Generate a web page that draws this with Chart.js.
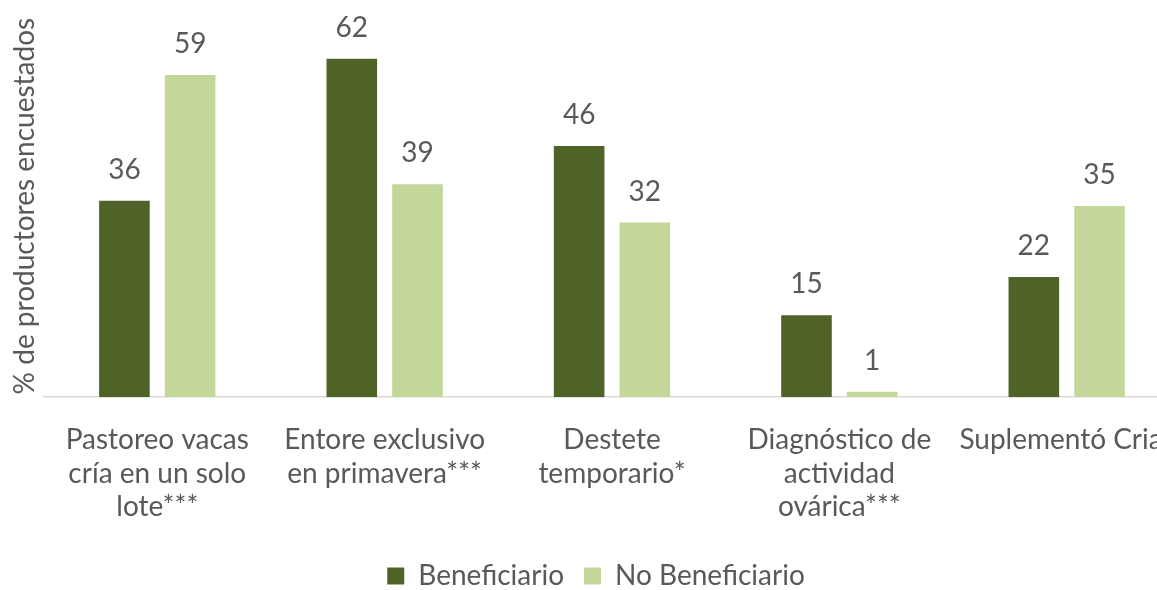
<!DOCTYPE html>
<html lang="es">
<head>
  <meta charset="UTF-8">
  <title>Prácticas de manejo</title>
  <script src="https://cdn.jsdelivr.net/npm/chart.js@4.4.0/dist/chart.umd.min.js"></script>
  <style>
    html, body { margin: 0; padding: 0; background: #fff; overflow: hidden; }
    #wrap { width: 1192px; height: 600px; }
  </style>
</head>
<body>
<div id="wrap"><canvas id="chart" width="1192" height="600"></canvas></div>
<script>
  const categories = [
    ['Pastoreo vacas', 'cría en un solo', 'lote***'],
    ['Entore exclusivo', 'en primavera***'],
    ['Destete', 'temporario*'],
    ['Diagnóstico de', 'actividad', 'ovárica***'],
    'Suplementó Cria*'
  ];
  const beneficiario = [36, 62, 46, 15, 22];
  const noBeneficiario = [59, 39, 32, 1, 35];

  const textColor = '#595959';
  const fontFamily = 'Lato, "Open Sans", sans-serif';
  const fontSize = 28;

  // draws the value above every bar
  const valueLabels = {
    id: 'valueLabels',
    afterDatasetsDraw(chart) {
      const ctx = chart.ctx;
      ctx.save();
      ctx.font = fontSize + 'px ' + fontFamily;
      ctx.fillStyle = textColor;
      ctx.textAlign = 'center';
      ctx.textBaseline = 'middle';
      chart.data.datasets.forEach((ds, i) => {
        chart.getDatasetMeta(i).data.forEach((bar, j) => {
          ctx.fillText(ds.data[j], bar.x, bar.y - 31);
        });
      });
      ctx.restore();
    }
  };

  const ctx = document.getElementById('chart').getContext('2d');
  new Chart(ctx, {
    type: 'bar',
    data: {
      labels: categories,
      datasets: [
        { label: 'Beneficiario', data: beneficiario, backgroundColor: '#4F6228' },
        { label: 'No Beneficiario', data: noBeneficiario, backgroundColor: '#C4D79B' }
      ]
    },
    options: {
      responsive: false,
      animation: false,
      categoryPercentage: 0.578,
      barPercentage: 0.77,
      layout: { padding: { left: 0, right: 0, top: 15, bottom: 0 } },
      plugins: {
        tooltip: { enabled: false },
        legend: {
          position: 'bottom',
          labels: {
            color: textColor,
            font: { family: fontFamily, size: fontSize },
            boxWidth: 17,
            boxHeight: 17,
            padding: 20
          }
        }
      },
      scales: {
        x: {
          grid: { display: false },
          border: { display: true, color: '#D9D9D9', width: 1.5 },
          ticks: {
            color: textColor,
            font: { family: fontFamily, size: fontSize, lineHeight: 1.2 },
            maxRotation: 0,
            autoSkip: false,
            padding: 18
          }
        },
        y: {
          min: 0,
          max: 70,
          grid: { display: false },
          border: { display: false },
          ticks: { display: false },
          title: {
            display: true,
            text: '% de productores encuestados',
            color: textColor,
            font: { family: fontFamily, size: fontSize },
            padding: { top: 8, bottom: -6 }
          }
        }
      }
    },
    plugins: [valueLabels]
  });
</script>
</body>
</html>
